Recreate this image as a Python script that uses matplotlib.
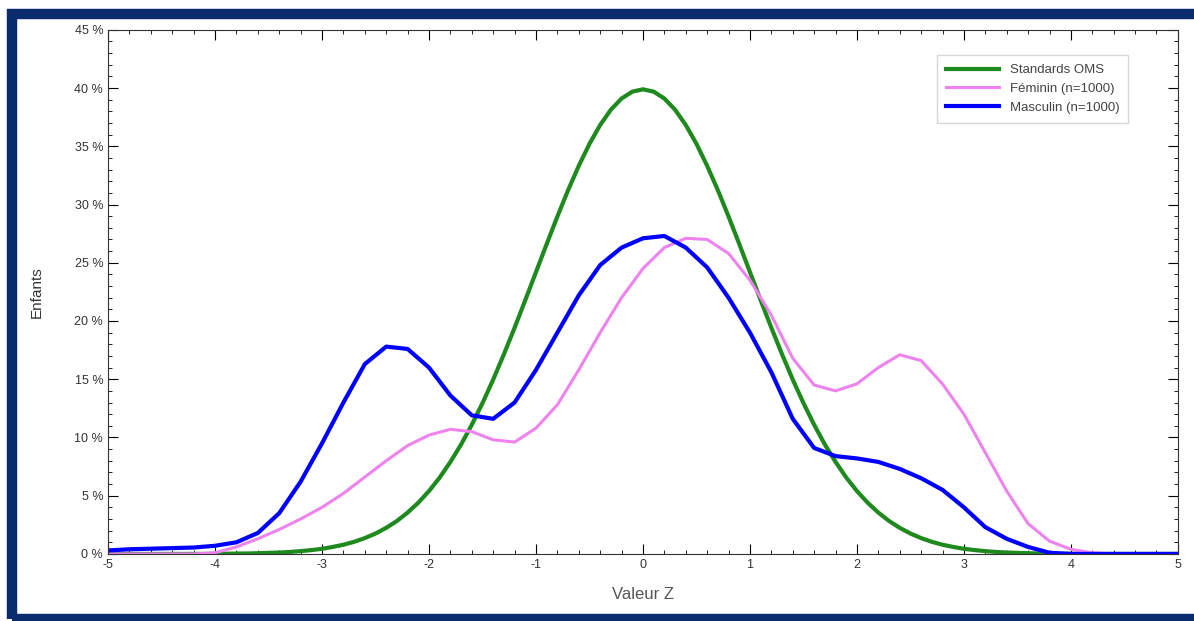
import matplotlib.pyplot as plt
from matplotlib.patches import Rectangle
from matplotlib.ticker import MultipleLocator, FuncFormatter

plt.rcParams['font.family'] = ['Liberation Sans', 'DejaVu Sans']
plt.rcParams['axes.unicode_minus'] = False

# WHO standard curve, sampled every 0.1 from -5 to 5
z_oms = [round(-5 + 0.1 * i, 1) for i in range(101)]
oms = [0, 0, 0, 0, 0, 0, 0, 0, 0, 0,
       0.01, 0.02, 0.03, 0.04, 0.06, 0.09, 0.12, 0.17, 0.24, 0.33,
       0.44, 0.60, 0.79, 1.04, 1.36, 1.75, 2.24, 2.83, 3.55, 4.40,
       5.40, 6.56, 7.90, 9.40, 11.09, 12.95, 14.97, 17.14, 19.42, 21.79,
       24.20, 26.61, 28.97, 31.23, 33.32, 35.21, 36.83, 38.14, 39.10, 39.69,
       39.89,
       39.69, 39.10, 38.14, 36.83, 35.21, 33.32, 31.23, 28.97, 26.61, 24.20,
       21.79, 19.42, 17.14, 14.97, 12.95, 11.09, 9.40, 7.90, 6.56, 5.40,
       4.40, 3.55, 2.83, 2.24, 1.75, 1.36, 1.04, 0.79, 0.60, 0.44,
       0.33, 0.24, 0.17, 0.12, 0.09, 0.06, 0.04, 0.03, 0.02, 0.01,
       0, 0, 0, 0, 0, 0, 0, 0, 0, 0]

# observed samples, every 0.2 from -5 to 5
z_obs = [round(-5 + 0.2 * i, 1) for i in range(51)]
feminin = [0, 0, 0, 0, 0, 0.1, 0.6, 1.3, 2.1, 3.0,
           4.0, 5.2, 6.6, 8.0, 9.3, 10.2, 10.7, 10.5, 9.8, 9.6,
           10.8, 12.8, 15.8, 19.0, 22.0, 24.5, 26.3, 27.1, 27.0, 25.8,
           23.5, 20.5, 16.8, 14.5, 14.0, 14.6, 16.0, 17.1, 16.6, 14.6,
           12.0, 8.7, 5.4, 2.6, 1.1, 0.4, 0.1, 0, 0, 0, 0]
masculin = [0.3, 0.4, 0.45, 0.5, 0.55, 0.7, 1.0, 1.8, 3.5, 6.2,
            9.5, 13.0, 16.3, 17.8, 17.6, 16.0, 13.6, 11.9, 11.6, 13.0,
            15.8, 19.0, 22.2, 24.8, 26.3, 27.1, 27.3, 26.3, 24.6, 22.0,
            19.0, 15.6, 11.6, 9.1, 8.4, 8.2, 7.9, 7.3, 6.5, 5.5,
            4.0, 2.3, 1.3, 0.6, 0.1, 0, 0, 0, 0, 0, 0]

fig = plt.figure(figsize=(11.94, 6.21), dpi=100)
ax = fig.add_axes([0.0905, 0.108, 0.896, 0.844])

ax.plot(z_oms, oms, color='#1e8a1e', lw=3, label='Standards OMS')
ax.plot(z_obs, feminin, color='#ee82ee', lw=2.2, label='Féminin (n=1000)')
ax.plot(z_obs, masculin, color='#0000ff', lw=3, label='Masculin (n=1000)')

ax.set_xlim(-5, 5)
ax.set_ylim(0, 45)
ax.xaxis.set_major_locator(MultipleLocator(1))
ax.xaxis.set_minor_locator(MultipleLocator(0.2))
ax.yaxis.set_major_locator(MultipleLocator(5))
ax.yaxis.set_minor_locator(MultipleLocator(1))
ax.yaxis.set_major_formatter(FuncFormatter(lambda v, p: '%d %%' % v))
ax.tick_params(which='both', direction='in', top=True, right=True,
               labelsize=9, labelcolor='#333333')
ax.tick_params(which='major', length=7)
ax.tick_params(which='minor', length=3)
for s in ax.spines.values():
    s.set_color('#333333')

ax.set_xlabel('Valeur Z', fontsize=12, color='#555555', labelpad=12)
ax.set_ylabel('Enfants', fontsize=11, color='#333333', labelpad=22)

leg = ax.legend(loc='upper right', bbox_to_anchor=(0.96, 0.965), fontsize=9.5,
                fancybox=False, edgecolor='#cccccc', handlelength=4,
                borderpad=0.7)
for t in leg.get_texts():
    t.set_color('#444444')

# dark blue frame around the picture
fig.patches.append(Rectangle((12 / 1194, 2 / 621), 1.02, 1 - 16 / 621,
                             transform=fig.transFigure, fill=False,
                             edgecolor='#0a2b6e', lw=7.5, clip_on=False))

fig.savefig('out.png', dpi=100)
